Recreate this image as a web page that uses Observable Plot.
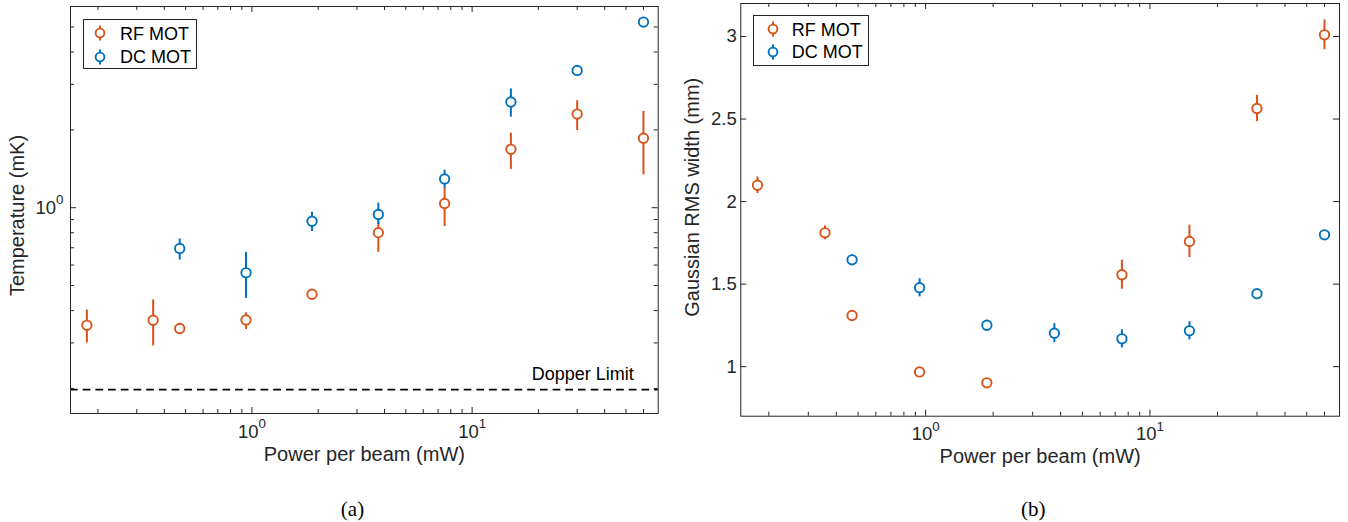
<!DOCTYPE html>
<html>
<head>
<meta charset="utf-8">
<script src="https://cdn.jsdelivr.net/npm/d3@7"></script>
<script src="https://cdn.jsdelivr.net/npm/@observablehq/plot@0.6"></script>
<style>
  html, body { margin: 0; padding: 0; background: #fff; }
  body { width: 1348px; height: 522px; overflow: hidden; font-family: "Liberation Sans", Arial, Helvetica, sans-serif; }
  #wrap { position: relative; width: 1348px; height: 522px; }
  .panel { position: absolute; top: 0; }
  .panel svg { display: block; overflow: visible; }
  .legend { position: absolute; background: #fff; border: 1px solid #262626; box-sizing: border-box; }
  .legend .lab { position: absolute; font-size: 18px; line-height: 20px; color: #000; white-space: nowrap; }
  .legend svg { position: absolute; overflow: visible; }
  .cap { position: absolute; font-family: "Liberation Serif", "Times New Roman", serif; font-size: 21px; color: #000; transform: translateX(-50%); line-height: 22px; }
</style>
</head>
<body>
<div id="wrap"></div>
<script>
// ---------- data ----------
const seriesNames = ["RF MOT", "DC MOT"];
const seriesColors = ["#D95319", "#0072BD"];

// (a) temperature vs power per beam
const rfPower = [0.178, 0.356, 0.47, 0.94, 1.875, 3.75, 7.5, 15, 30, 60];
const rfTemp = [0.351, 0.367, 0.341, 0.368, 0.463, 0.801, 1.039, 1.682, 2.302, 1.857];
const rfTempLo = [0.300, 0.292, 0.325, 0.338, 0.442, 0.672, 0.846, 1.406, 1.988, 1.339];
const rfTempHi = [0.402, 0.440, 0.356, 0.392, 0.480, 0.884, 1.203, 1.942, 2.594, 2.357];

const dcPower = [0.47, 0.94, 1.875, 3.75, 7.5, 15, 30, 60];
const dcTemp = [0.696, 0.560, 0.887, 0.942, 1.292, 2.564, 3.395, 5.222];
const dcTempLo = [0.627, 0.446, 0.809, 0.861, 1.196, 2.241, 3.395, 5.222];
const dcTempHi = [0.757, 0.672, 0.961, 1.042, 1.397, 2.881, 3.395, 5.222];

const dopplerLimit = 0.198;
const dopplerText = "Dopper Limit";

// (b) Gaussian RMS width vs power per beam
const rfPowerB = [0.178, 0.356, 0.47, 0.94, 1.875, 7.5, 15, 30, 60];
const rfWidth = [2.099, 1.811, 1.31, 0.968, 0.902, 1.557, 1.759, 2.564, 3.01];
const rfWidthErr = [0.05, 0.042, 0, 0, 0, 0.088, 0.098, 0.08, 0.09];

const dcPowerB = [0.47, 0.94, 1.875, 3.75, 7.5, 15, 30, 60];
const dcWidth = [1.647, 1.478, 1.251, 1.203, 1.169, 1.217, 1.442, 1.799];
const dcWidthErr = [0.03, 0.055, 0.03, 0.058, 0.055, 0.055, 0, 0];

// axes / ticks
const xDomain = [0.15, 70];
const xMajor = [1, 10];
const xMinor = [0.2, 0.3, 0.4, 0.5, 0.6, 0.7, 0.8, 0.9, 2, 3, 4, 5, 6, 7, 8, 9, 20, 30, 40, 50, 60];
const tempDomain = [0.16, 6];
const tempMajor = [1];
const tempMinor = [0.2, 0.3, 0.4, 0.5, 0.6, 0.7, 0.8, 0.9, 2, 3, 4, 5];
const widthDomain = [0.7, 3.2];
const widthTicks = [1, 1.5, 2, 2.5, 3];

const xLabel = "Power per beam (mW)";
const yLabelA = "Temperature (mK)";
const yLabelB = "Gaussian RMS width (mm)";
const captions = ["(a)", "(b)"];

// ---------- helpers ----------
const AX = "#262626";
const TICK_FS = 18.5, LABEL_FS = 20;
const pow10 = d => "10^" + Math.round(Math.log10(d));

function rows(xs, ys, lo, hi, s) {
  return xs.map((x, i) => ({x, y: ys[i], lo: lo[i], hi: hi[i], s}));
}

function boxTicks(fw, fh, xMaj, xMin, yMaj, yMin) {
  const m = [];
  const add = (vals, len, axis) => {
    if (!vals.length) return;
    if (axis === "x") {
      m.push(Plot.tickX(vals, {x: d => d, insetTop: fh - len, stroke: AX, strokeWidth: 1}));
      m.push(Plot.tickX(vals, {x: d => d, insetBottom: fh - len, stroke: AX, strokeWidth: 1}));
    } else {
      m.push(Plot.tickY(vals, {y: d => d, insetRight: fw - len, stroke: AX, strokeWidth: 1}));
      m.push(Plot.tickY(vals, {y: d => d, insetLeft: fw - len, stroke: AX, strokeWidth: 1}));
    }
  };
  add(xMaj, 6, "x"); add(xMin, 4, "x");
  add(yMaj, 6, "y"); add(yMin, 4, "y");
  return m;
}

function seriesMarks(data) {
  return [
    Plot.ruleX(data.filter(d => d.hi > d.lo), {x: "x", y1: "lo", y2: "hi", stroke: d => seriesColors[d.s], strokeWidth: 2}),
    Plot.dot(data, {x: "x", y: "y", r: 4.7, fill: "white", stroke: d => seriesColors[d.s], strokeWidth: 1.9})
  ];
}

function superscripts(svg) {
  d3.select(svg).selectAll("text").each(function() {
    const m = /^10\^(-?\d+)$/.exec(this.textContent);
    if (!m) return;
    const sel = d3.select(this);
    sel.text(null);
    sel.append("tspan").text("10");
    sel.append("tspan").attr("font-size", "0.72em").attr("dy", "-0.72em").text(m[1]);
  });
}

function addLegend(parent, left, top, w, h, markerX, textX, rowY) {
  const lg = document.createElement("div");
  lg.className = "legend";
  Object.assign(lg.style, {left: left + "px", top: top + "px", width: w + "px", height: h + "px"});
  seriesNames.forEach((name, i) => {
    const cy = rowY[i] - top - 1;
    const s = d3.create("svg").attr("width", 20).attr("height", 20)
      .style("left", (markerX - left - 1 - 10) + "px").style("top", (cy - 10) + "px");
    s.append("line").attr("x1", 10).attr("x2", 10).attr("y1", 2.5).attr("y2", 17.5)
      .attr("stroke", seriesColors[i]).attr("stroke-width", 2);
    s.append("circle").attr("cx", 10).attr("cy", 10).attr("r", 4.4)
      .attr("fill", "white").attr("stroke", seriesColors[i]).attr("stroke-width", 1.9);
    lg.appendChild(s.node());
    const t = document.createElement("div");
    t.className = "lab";
    t.textContent = name;
    Object.assign(t.style, {left: (textX - left - 1) + "px", top: (cy - 10 + 0.5) + "px"});
    lg.appendChild(t);
  });
  parent.appendChild(lg);
}

const wrap = document.getElementById("wrap");

// ---------- panel (a) ----------
{
  const W = 674, H = 480, mL = 70, mR = 16.3, mT = 6, mB = 67;
  const fw = W - mL - mR, fh = H - mT - mB;
  const data = rows(rfPower, rfTemp, rfTempLo, rfTempHi, 0)
    .concat(rows(dcPower, dcTemp, dcTempLo, dcTempHi, 1));
  const chart = Plot.plot({
    width: W, height: H,
    marginLeft: mL, marginRight: mR, marginTop: mT, marginBottom: mB,
    style: {fontFamily: "'Liberation Sans', Arial, Helvetica, sans-serif", color: AX, background: "white", overflow: "visible"},
    x: {type: "log", domain: xDomain, axis: null},
    y: {type: "log", domain: tempDomain, axis: null},
    marks: [
      Plot.ruleY([dopplerLimit], {y: d => d, stroke: "#000", strokeWidth: 1.8, strokeDasharray: "7.7,5"}),
      Plot.text([dopplerLimit], {y: d => d, frameAnchor: "right", dx: -24.4, dy: -15.5, text: () => dopplerText, textAnchor: "end", fontSize: 18, fill: "#000"}),
      ...seriesMarks(data),
      Plot.frame({stroke: AX, strokeWidth: 1}),
      ...boxTicks(fw, fh, xMajor, xMinor, tempMajor, tempMinor),
      Plot.text(xMajor, {x: d => d, frameAnchor: "bottom", dy: 24, text: pow10, fontSize: TICK_FS, fill: AX}),
      Plot.text(tempMajor, {y: d => d, frameAnchor: "left", dx: -7, textAnchor: "end", text: pow10, fontSize: TICK_FS, fill: AX}),
      Plot.text([xLabel], {frameAnchor: "bottom", dy: 47, textAnchor: "middle", text: d => d, fontSize: LABEL_FS, fill: AX}),
      Plot.text([yLabelA], {frameAnchor: "left", dx: -52.5, dy: 5.5, rotate: -90, textAnchor: "middle", text: d => d, fontSize: LABEL_FS, fill: AX})
    ]
  });
  superscripts(chart);
  const div = document.createElement("div");
  div.className = "panel";
  div.style.left = "0px";
  div.appendChild(chart);
  wrap.appendChild(div);
  addLegend(wrap, 82.7, 19.3, 114, 50, 100, 120, [33.3, 56.7]);
}

// ---------- panel (b) ----------
{
  const W = 674, H = 480, mL = 66.3, mR = 9, mT = 3, mB = 64.3;
  const fw = W - mL - mR, fh = H - mT - mB;
  const err = (ys, e) => ys.map((y, i) => y - e[i]);
  const errH = (ys, e) => ys.map((y, i) => y + e[i]);
  const data = rows(rfPowerB, rfWidth, err(rfWidth, rfWidthErr), errH(rfWidth, rfWidthErr), 0)
    .concat(rows(dcPowerB, dcWidth, err(dcWidth, dcWidthErr), errH(dcWidth, dcWidthErr), 1));
  const chart = Plot.plot({
    width: W, height: H,
    marginLeft: mL, marginRight: mR, marginTop: mT, marginBottom: mB,
    style: {fontFamily: "'Liberation Sans', Arial, Helvetica, sans-serif", color: AX, background: "white", overflow: "visible"},
    x: {type: "log", domain: xDomain, axis: null},
    y: {type: "linear", domain: widthDomain, axis: null},
    marks: [
      ...seriesMarks(data),
      Plot.frame({stroke: AX, strokeWidth: 1}),
      ...boxTicks(fw, fh, xMajor, xMinor, widthTicks, []),
      Plot.text(xMajor, {x: d => d, frameAnchor: "bottom", dy: 24, text: pow10, fontSize: TICK_FS, fill: AX}),
      Plot.text(widthTicks, {y: d => d, frameAnchor: "left", dx: -4, textAnchor: "end", text: d => String(d), fontSize: TICK_FS, fill: AX}),
      Plot.text([xLabel], {frameAnchor: "bottom", dy: 47, textAnchor: "middle", text: d => d, fontSize: LABEL_FS, fill: AX}),
      Plot.text([yLabelB], {frameAnchor: "left", dx: -47.8, dy: -12.6, rotate: -90, textAnchor: "middle", text: d => d, fontSize: LABEL_FS, fill: AX})
    ]
  });
  superscripts(chart);
  const div = document.createElement("div");
  div.className = "panel";
  div.style.left = "674px";
  div.appendChild(chart);
  wrap.appendChild(div);
  addLegend(wrap, 753.3, 15, 116, 51, 773.3, 791.7, [29.3, 51.7]);
}

// ---------- captions ----------
[[352.5, captions[0]], [1033.3, captions[1]]].forEach(([x, t]) => {
  const c = document.createElement("div");
  c.className = "cap";
  c.textContent = t;
  c.style.left = x + "px";
  c.style.top = "498px";
  wrap.appendChild(c);
});
</script>
</body>
</html>
